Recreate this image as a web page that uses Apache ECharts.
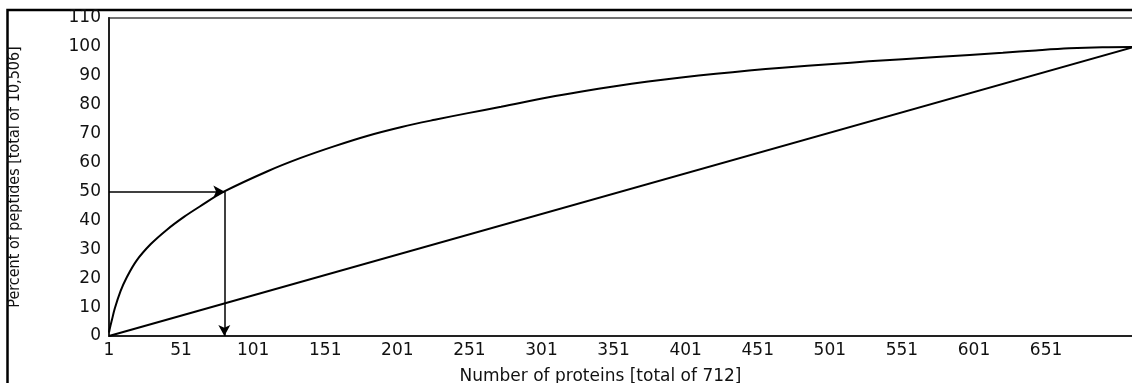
<!DOCTYPE html>
<html>
<head>
<meta charset="utf-8">
<script src="https://cdn.jsdelivr.net/npm/echarts@6/dist/echarts.min.js"></script>
<style>
  html, body { margin: 0; padding: 0; background: #fff; }
  #chart { width: 1132px; height: 383px; }
</style>
</head>
<body>
<div id="chart"></div>
<script>
// Protein rank (1 = most peptides) and cumulative percent of peptides
const curveRanks = [1, 2, 3, 5, 9, 13, 20, 30, 41, 53, 64, 81, 111, 134, 157, 180, 204, 227, 250, 273, 306, 329, 352, 375, 398, 422, 445, 468, 503, 528, 575, 621, 644, 667, 690, 712];
const curvePercents = [1.2, 3.5, 5.5, 9.5, 15.5, 20, 26, 31.8, 36.7, 41.2, 44.8, 50, 57, 61.6, 65.6, 69.2, 72.3, 74.8, 77.1, 79.3, 82.6, 84.6, 86.4, 88.0, 89.4, 90.7, 91.8, 92.8, 94.1, 95.0, 96.5, 98.0, 98.8, 99.5, 99.9, 100];
// Uniform reference line (equal peptides per protein)
const diagonalRanks = [1, 712];
const diagonalPercents = [0, 100];
// Arrow annotation: 50% of peptides reached at this rank
const arrowRank = 81;
const arrowPercent = 50;
// Tick labels
const xTickLabels = [1, 51, 101, 151, 201, 251, 301, 351, 401, 451, 501, 551, 601, 651];
const yTickLabels = [0, 10, 20, 30, 40, 50, 60, 70, 80, 90, 100, 110];

const chart = echarts.init(document.getElementById('chart'), null, { renderer: 'canvas' });

const labelFont = "'DejaVu Sans', 'Liberation Sans', sans-serif";

const option = {
  animation: false,
  backgroundColor: '#ffffff',
  grid: {
    left: 109, right: -2, top: 18, bottom: 47,
    containLabel: false,
    outerBoundsMode: 'none',
    show: true, borderColor: '#444', borderWidth: 1.5, backgroundColor: 'transparent'
  },
  xAxis: {
    type: 'value',
    min: 1, max: 712,
    name: 'Number of proteins [total of 712]',
    nameLocation: 'middle',
    nameGap: 32,
    nameTextStyle: { fontFamily: labelFont, fontSize: 17, color: '#111', padding: [0, 42, 0, 0] },
    axisLine: { show: true, lineStyle: { color: '#222', width: 2 } },
    axisTick: { show: false },
    splitLine: { show: false },
    axisLabel: {
      customValues: xTickLabels,
      fontFamily: labelFont, fontSize: 17, color: '#111', margin: 6,
      formatter: v => String(v)
    }
  },
  yAxis: {
    type: 'value',
    min: 0, max: 110, interval: 10,
    name: 'Percent of peptides [total of 10,506]',
    nameLocation: 'middle',
    nameRotate: 90,
    nameGap: 86,
    nameTextStyle: { fontFamily: "'Liberation Sans Narrow', 'DejaVu Sans Condensed', sans-serif", fontSize: 16, color: '#111' },
    axisLine: { show: true, lineStyle: { color: '#222', width: 2 } },
    axisTick: { show: false },
    splitLine: { show: false },
    axisLabel: {
      customValues: yTickLabels,
      fontFamily: labelFont, fontSize: 17, color: '#111', margin: 8,
      formatter: v => String(v)
    }
  },
  series: [
    {
      type: 'line',
      data: curveRanks.map((r, i) => [r, curvePercents[i]]),
      smooth: 0.35,
      showSymbol: false,
      symbol: 'none',
      lineStyle: { color: '#000', width: 2 },
      markLine: {
        silent: true,
        symbol: ['none', 'arrow'],
        symbolSize: [9, 11],
        label: { show: false },
        lineStyle: { color: '#000', width: 1.5, type: 'solid' },
        data: [
          [{ coord: [1, arrowPercent] }, { coord: [arrowRank, arrowPercent] }],
          [{ coord: [arrowRank, arrowPercent] }, { coord: [arrowRank, 0] }]
        ]
      }
    },
    {
      type: 'line',
      data: diagonalRanks.map((r, i) => [r, diagonalPercents[i]]),
      showSymbol: false,
      symbol: 'none',
      lineStyle: { color: '#000', width: 2 }
    }
  ],
  graphic: [
    {
      type: 'polyline',
      silent: true,
      shape: { points: [[7.5, 383], [7.5, 10], [1132, 10]] },
      style: { stroke: '#000', lineWidth: 2.5, fill: null }
    }
  ]
};

chart.setOption(option);
</script>
</body>
</html>
